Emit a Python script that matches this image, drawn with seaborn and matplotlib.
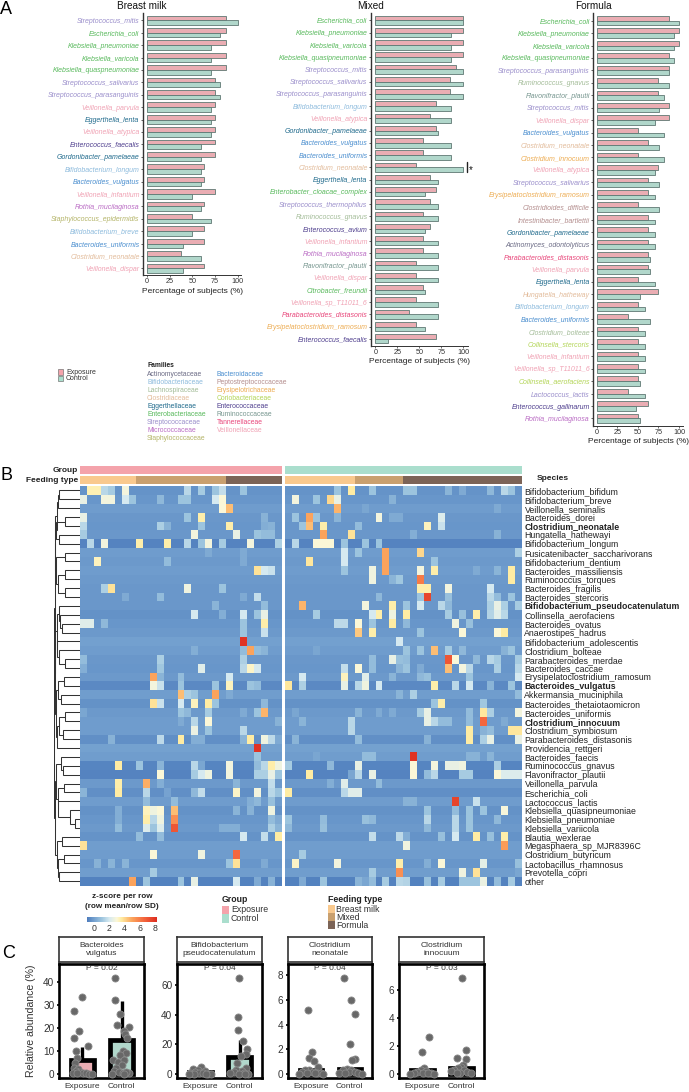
import numpy as np
import pandas as pd
import matplotlib
matplotlib.use("Agg")
import matplotlib.pyplot as plt
from matplotlib.colors import LinearSegmentedColormap, ListedColormap
from matplotlib.patches import Rectangle
import seaborn as sns

sns.set_theme(style="white")
plt.rcParams['font.family'] = ['Liberation Sans', 'DejaVu Sans']
plt.rcParams['axes.unicode_minus'] = False

W, H = 689, 1092

PINK = "#f4a3ab"
TEAL = "#aadecd"
GROUP_COLORS = {"Exposure": PINK, "Control": TEAL}

# --- panel A -------------------------------------------------------------
FAMILY_COLORS = {
    "Actinomycetaceae": "#6b6b85", "Bifidobacteriaceae": "#8dbbdd", "Lachnospiraceae": "#a3bc98",
    "Clostridiaceae": "#e2bb9a", "Eggerthellaceae": "#1f6a8c", "Enterobacteriaceae": "#58b95c",
    "Streptococcaceae": "#9a8ecb", "Micrococcaceae": "#ba6cc4", "Staphylococcaceae": "#b4b468",
    "Bacteroidaceae": "#4a8ecf", "Peptostreptococcaceae": "#b48e8e", "Erysipelotrichaceae": "#edac52",
    "Coriobacteriaceae": "#b3d557", "Enterococcaceae": "#4f3f8e", "Ruminococcaceae": "#76968f",
    "Tannerellaceae": "#e8467a", "Veillonellaceae": "#f0a2b4",
}
families_left = ["Actinomycetaceae", "Bifidobacteriaceae", "Lachnospiraceae", "Clostridiaceae", "Eggerthellaceae",
                 "Enterobacteriaceae", "Streptococcaceae", "Micrococcaceae", "Staphylococcaceae"]
families_right = ["Bacteroidaceae", "Peptostreptococcaceae", "Erysipelotrichaceae", "Coriobacteriaceae",
                  "Enterococcaceae", "Ruminococcaceae", "Tannerellaceae", "Veillonellaceae"]

GENUS_FAMILY = {
    "Streptococcus": "Streptococcaceae", "Lactococcus": "Streptococcaceae", "Escherichia": "Enterobacteriaceae",
    "Klebsiella": "Enterobacteriaceae", "Enterobacter": "Enterobacteriaceae", "Citrobacter": "Enterobacteriaceae",
    "Veillonella": "Veillonellaceae", "Eggerthella": "Eggerthellaceae", "Gordonibacter": "Eggerthellaceae",
    "Enterococcus": "Enterococcaceae", "Bifidobacterium": "Bifidobacteriaceae", "Bacteroides": "Bacteroidaceae",
    "Rothia": "Micrococcaceae", "Staphylococcus": "Staphylococcaceae", "Clostridium": "Clostridiaceae",
    "Ruminococcus": "Lachnospiraceae", "Flavonifractor": "Ruminococcaceae", "Parabacteroides": "Tannerellaceae",
    "Erysipelatoclostridium": "Erysipelotrichaceae", "Clostridioides": "Peptostreptococcaceae",
    "Intestinibacter": "Peptostreptococcaceae", "Actinomyces": "Actinomycetaceae", "Hungatella": "Clostridiaceae",
    "Collinsella": "Coriobacteriaceae",
}
SPECIES_FAMILY = {"Clostridium_innocuum": "Erysipelotrichaceae", "Clostridium_bolteae": "Lachnospiraceae"}

breast_species = ["Streptococcus_mitis", "Escherichia_coli", "Klebsiella_pneumoniae", "Klebsiella_varicola",
                  "Klebsiella_quaspneumoniae", "Streptococcus_salivarius", "Streptococcus_parasanguinis",
                  "Veillonella_parvula", "Eggerthella_lenta", "Veillonella_atypica", "Enterococcus_faecalis",
                  "Gordonibacter_pamelaeae", "Bifidobacterium_longum", "Bacteroides_vulgatus", "Veillonella_infantium",
                  "Rothia_mucilaginosa", "Staphylococcus_epidermidis", "Bifidobacterium_breve", "Bacteroides_uniformis",
                  "Clostridium_neonatale", "Veillonella_dispar"]
breast_exposure = [87.5, 87.5, 87.5, 87.5, 87.5, 75, 75, 75, 75, 75, 75, 75, 62.5, 62.5, 75, 62.5, 50, 62.5, 62.5, 37.5, 62.5]
breast_control = [100, 80, 70, 70, 70, 80, 80, 70, 70, 70, 60, 60, 60, 60, 50, 60, 70, 50, 40, 60, 40]

mixed_species = ["Escherichia_coli", "Klebsiella_pneumoniae", "Klebsiella_varicola", "Klebsiella_quasipneumoniae",
                 "Streptococcus_mitis", "Streptococcus_salivarius", "Streptococcus_parasanguinis",
                 "Bifidobacterium_longum", "Veillonella_atypica", "Gordonibacter_pamelaeae", "Bacteroides_vulgatus",
                 "Bacteroides_uniformis", "Clostridium_neonatale", "Eggerthella_lenta", "Enterobacter_cloacae_complex",
                 "Streptococcus_thermophilus", "Ruminococcus_gnavus", "Enterococcus_avium", "Veillonella_infantium",
                 "Rothia_mucilaginosa", "Flavonifractor_plautii", "Veillonella_dispar", "Citrobacter_freundii",
                 "Veillonella_sp_T11011_6", "Parabacteroides_distasonis", "Erysipelatoclostridium_ramosum",
                 "Enterococcus_faecalis"]
mixed_exposure = [100, 100, 100, 100, 92, 85, 85, 69, 62, 69, 54, 54, 46, 62, 69, 62, 54, 62, 54, 54, 46, 46, 54, 46, 38, 46, 69]
mixed_control = [100, 86, 86, 86, 100, 100, 100, 86, 86, 71, 86, 86, 100, 71, 57, 71, 71, 57, 71, 71, 71, 71, 57, 71, 71, 57, 14]

formula_species = ["Escherichia_coli", "Klebsiella_pneumoniae", "Klebsiella_varicola", "Klebsiella_quasipneumoniae",
                   "Streptococcus_parasanguinis", "Ruminococcus_gnavus", "Flavonifractor_plautii", "Streptococcus_mitis",
                   "Veillonella_dispar", "Bacteroides_vulgatus", "Clostridium_neonatale", "Clostridium_innocuum",
                   "Veillonella_atypica", "Streptococcus_salivarius", "Erysipelatoclostridium_ramosum",
                   "Clostridioides_difficile", "Intestinibacter_bartlettii", "Gordonibacter_pamelaeae",
                   "Actinomyces_odontolyticus", "Parabacteroides_distasonis", "Veillonella_parvula", "Eggerthella_lenta",
                   "Hungatella_hatheway", "Bifidobacterium_longum", "Bacteroides_uniformis", "Clostridium_bolteae",
                   "Collinsella_stercoris", "Veillonella_infantium", "Veillonella_sp_T11011_6", "Collinsella_aerofaciens",
                   "Lactococcus_lactis", "Enterococcus_gallinarum", "Rothia_mucilaginosa"]
formula_exposure = [87.5, 100, 100, 87.5, 87.5, 75, 75, 87.5, 87.5, 50, 62.5, 50, 75, 62.5, 62.5, 50, 62.5, 62.5, 62.5, 62.5,
                    62.5, 50, 75, 50, 37.5, 50, 50, 50, 50, 50, 37.5, 62.5, 50]
formula_control = [100, 94, 94, 94, 88, 88, 82, 76, 71, 82, 76, 82, 71, 76, 71, 76, 71, 71, 71, 65, 65, 71, 53, 59, 65, 59,
                   59, 59, 59, 53, 59, 47, 53]

# --- panel B -------------------------------------------------------------
row_labels = ["Bifidobacterium_bifidum", "Bifidobacterium_breve", "Veillonella_seminalis", "Bacteroides_dorei",
              "Clostridium_neonatale", "Hungatella_hathewayi", "Bifidobacterium_longum", "Fusicatenibacter_saccharivorans",
              "Bifidobacterium_dentium", "Bacteroides_massiliensis", "Ruminococcus_torques", "Bacteroides_fragilis",
              "Bacteroides_stercoris", "Bifidobacterium_pseudocatenulatum", "Collinsella_aerofaciens", "Bacteroides_ovatus",
              "Anaerostipes_hadrus", "Bifidobacterium_adolescentis", "Clostridium_bolteae", "Parabacteroides_merdae",
              "Bacteroides_caccae", "Erysipelatoclostridium_ramosum", "Bacteroides_vulgatus", "Akkermansia_muciniphila",
              "Bacteroides_thetaiotaomicron", "Bacteroides_uniformis", "Clostridium_innocuum", "Clostridium_symbiosum",
              "Parabacteroides_distasonis", "Providencia_rettgeri", "Bacteroides_faecis", "Ruminococcus_gnavus",
              "Flavonifractor_plautii", "Veillonella_parvula", "Escherichia_coli", "Lactococcus_lactis",
              "Klebsiella_quasipneumoniae", "Klebsiella_pneumoniae", "Klebsiella_variicola", "Blautia_wexlerae",
              "Megasphaera_sp_MJR8396C", "Clostridium_butyricum", "Lactobacillus_rhamnosus", "Prevotella_copri", "other"]
bold_rows = ["Clostridium_neonatale", "Bifidobacterium_pseudocatenulatum", "Bacteroides_vulgatus", "Clostridium_innocuum"]

row_base = [-.3, -.25, -.1, -.2, -.25, -.2, -.7, -.1, -.15, -.1, -.15, -.2, -.2, -.2, -.35, -.25, -.15, 0, -.1, -.2,
            -.25, -.15, -.55, -.05, -.35, -.15, -.1, -.1, -.4, .05, -.05, -.65, -.7, -.15, -.4, -.1, -.35, -.25, -.15,
            -.3, -.05, -.1, -.25, -.05, -.75]

exposure_cells = {
    0: {1: 3.4, 2: 3.4, 3: 1.5, 4: 1.2, 6: 2.8, 15: 1.5, 17: 1.2, 19: 1, 20: 1.7, 23: 1},
    1: {0: 2.5, 3: 2.8, 4: 2.8, 6: 2, 7: 1, 11: .7, 14: 1, 15: 1, 19: 2, 20: 3},
    2: {20: 3, 21: 4.5},
    3: {0: 2.5, 15: 1, 17: 3.5, 26: .5},
    4: {0: 1.5, 11: 1.3, 12: .5, 17: 1, 21: 3.5, 26: .4, 27: .5},
    5: {0: 1.2, 16: 2.8, 22: 2.5, 25: 1, 26: .8, 27: .8},
    6: {1: 1.5, 3: 2.8, 8: 3.5, 12: 3.5, 15: 1.5, 17: 1, 18: 2.8, 20: 1.2, 24: 2.8, 28: 1.3},
    7: {18: .3, 23: .3},
    8: {2: 3.3, 12: .8, 23: .3},
    9: {25: 3.8, 26: 2, 27: 1.8},
    11: {3: 1.3, 4: 3.8, 15: 2.7, 20: 1},
    12: {6: .3, 11: .8, 23: .3, 25: 1.7},
    13: {19: .6, 26: .8},
    14: {16: 2, 20: .4, 23: 2, 25: 1, 26: 2.5},
    15: {0: 2.3, 1: 2.3, 3: .7, 23: 1, 26: 3.5},
    16: {23: 1, 26: 1.8},
    17: {23: 8},
    18: {16: .4, 23: .8, 24: 5, 25: .8, 26: .6},
    19: {0: .8, 11: 1.3, 23: 1.3},
    20: {0: .4, 11: 1.1, 17: 2.3, 23: 1.5, 24: 3.2, 25: 2},
    21: {10: 5, 11: .6, 14: .8, 21: 2},
    22: {10: 2.8, 11: 1.8, 14: 1, 19: 1, 21: 3.3, 24: 1, 25: .8},
    23: {14: 4.5, 15: 1.3, 16: 1, 19: 5, 21: .3},
    24: {10: 3.8, 11: 1.8, 14: 2, 16: 3.3, 18: 3.6, 19: 1, 26: .7},
    25: {0: .2, 14: 1, 15: .7, 18: 1.2, 23: .3, 25: 1, 26: 4.7},
    26: {14: .3, 16: 1.5, 18: 3, 28: .5},
    27: {16: 2.6, 18: 1, 23: 1.5},
    28: {4: .5, 11: 1.6, 14: 3.6, 16: .4, 17: .4, 23: .6, 24: 3.6, 26: 2.7, 27: 1.6, 28: .3},
    29: {25: 8},
    30: {25: 1},
    31: {5: 3.6, 8: 1, 11: .6, 16: 1.5, 17: .2, 21: 2.8, 25: .8, 26: 1.5, 27: 3.5, 28: 2.7},
    32: {11: 3, 16: 1.2, 17: 2, 18: 2.7, 21: 2.8, 25: 1.3, 26: 1.3, 27: 2.5, 28: 1},
    33: {5: 3.5, 9: 4.8, 11: .4, 22: .6, 27: 1.7},
    34: {0: .6, 5: 3.6, 9: 1.5, 12: .1, 16: .7, 17: 1.7, 22: 3.2, 25: 2.8, 27: 1.5, 28: 1},
    35: {9: .8, 13: .8, 24: .4, 25: .7, 27: .9},
    36: {5: .4, 9: 3.3, 10: 2.7, 11: 3, 13: 4.5, 22: .6, 24: .5, 27: 2.7},
    37: {5: .4, 9: 3.5, 10: 1.5, 11: 2.7, 13: 5.5, 27: .8, 28: .3},
    38: {5: .8, 9: 2.2, 10: 1, 11: 2.2, 13: 7, 20: .4, 21: .4, 22: .4, 27: 1.3, 28: .6},
    39: {8: .8, 11: .8, 23: 2, 26: 1.7, 28: 3.6},
    40: {0: 3.8},
    41: {10: 3, 17: 2.7, 22: 6.5},
    42: {2: .5, 4: .6, 6: .6, 21: 1, 22: 3.8, 26: .3},
    43: {10: 1.2},
    44: {7: 5, 9: 1, 14: 1, 16: 2.5, 22: 2, 25: .3, 27: .5},
}
control_cells = {
    0: {7: 1, 9: 3.6, 12: 1, 17: 1, 18: 1, 23: .6, 25: .3, 29: .7, 31: 1.5, 32: 1},
    1: {1: 2.8, 4: 1, 6: 4, 7: 2.5, 15: .5},
    2: {7: 4.7, 11: .2, 30: .3},
    3: {1: 1, 3: 5, 4: 1, 7: .6, 13: 2.8, 15: .3, 16: .3, 22: 2.2},
    4: {2: 1, 3: 4.5, 5: 3.5, 10: .8, 20: 3.3, 22: 1.8},
    5: {5: 5, 9: 3.8, 18: .4, 30: .5},
    6: {1: 1.5, 4: 3, 5: 3, 6: 3, 8: 1, 11: 1, 13: 1},
    7: {8: 2, 10: 1, 14: 5, 19: 4, 33: 1.3},
    8: {3: 3.7, 8: 2, 14: 5, 21: 1},
    9: {8: 1, 12: 2.7, 14: 5, 19: 2.8, 21: 3.5, 27: .3, 30: .6, 32: 3.6},
    10: {12: 2.7, 15: .6, 16: 1.1, 19: 6, 32: 3.6},
    11: {19: 3.5, 20: 3.5, 23: 2.8, 29: 2},
    12: {13: .7, 19: 1, 20: 7.5, 23: .9, 29: 1.5, 30: .8, 32: 1},
    13: {2: 4.7, 11: 2.8, 15: 3.5, 17: 1, 19: 2, 22: 1.5, 23: .7, 29: 1.3, 30: 2.5, 31: 1.3, 33: 1.2},
    14: {4: 1.2, 12: 2, 13: 3.5, 15: 2.7, 17: 3.6, 23: 1.2, 25: .9, 27: 3.5, 29: 1.4, 30: 2.3, 31: 1.5},
    15: {7: 1.6, 8: 1.6, 10: 3, 12: 1, 15: 3.6, 17: .7, 24: 2.7, 26: .9},
    16: {10: 4.3, 12: 3.5, 19: 1, 25: 3, 30: 3, 31: 3.6},
    17: {16: 2},
    18: {4: .2, 17: 1, 19: 1, 21: 4.5, 23: 1.2, 25: .7, 31: .5, 32: 1},
    19: {12: .8, 15: 2.5, 16: .9, 17: .8, 23: 7, 24: 3, 27: .7, 29: 1.5, 30: 1.2, 33: 1.2},
    20: {8: 1.7, 10: 3, 12: .8, 16: .6, 17: 1, 19: .3, 23: 4.5, 25: 2.8, 26: 1.5, 30: 1.3, 33: 1.5},
    21: {2: 2, 8: 3.3, 11: 2.3, 15: .6, 19: .7, 20: .9, 26: 1, 33: 2},
    22: {0: 3.7, 2: 1.3, 8: 2.5, 10: 1.5, 11: 2.7, 13: 2, 21: 3.5, 24: 1.5, 26: 2, 29: .6, 32: 1},
    23: {16: .6, 18: 1.3, 33: .8},
    24: {21: 1, 22: 3.5, 28: 1.1},
    25: {1: .2, 10: .6, 13: .3, 15: .3, 19: 1.2, 20: 2.5, 26: .8, 28: 3.7, 29: 1.3, 33: 2.8},
    26: {2: .6, 9: 1.5, 20: 2.5, 21: 1.5, 22: .8, 23: .8, 26: .8, 28: 6.5, 31: .3},
    27: {9: 1.5, 26: 3.6, 28: .5, 29: .8, 32: 3.7, 33: 3.7},
    28: {1: .6, 10: .8, 20: .5, 26: 3.6, 28: 1.3, 29: 2.5, 33: 2.5},
    30: {4: .2, 11: .8, 12: .8, 18: 8, 26: .5, 27: .5, 29: .6},
    31: {0: 1.2, 6: .7, 10: 2.5, 18: 3, 21: 2.8, 23: 2.5, 24: 2.5, 25: 2.7, 30: 1.3},
    32: {3: 3.6, 9: .2, 10: 1.5, 12: 2.5, 18: 3, 20: .8, 21: 1.5, 25: 1.2, 26: 1.2, 30: 3, 31: 2.2, 32: 2.2, 33: 2.2},
    33: {6: .4, 8: 2.3, 13: .8},
    34: {0: 3.6, 8: 1.5, 9: 2.3, 10: 2.3},
    35: {17: .5, 18: .5, 24: 7.5, 27: 1.8},
    36: {20: 1, 24: .8, 26: 1, 28: 1, 31: 2.9},
    37: {0: 1, 5: .8, 11: .9, 12: .7, 20: 1.5, 24: 1.5, 26: 1, 30: .7},
    38: {0: .7, 5: .9, 20: .7, 24: 1.5, 26: 1},
    39: {12: 1.7, 16: 1.6, 17: .4, 22: .9, 24: 2, 27: 3.6, 29: .9, 31: 3.5},
    40: {17: 2.7, 31: 5.2},
    41: {2: 1.2},
    42: {1: 3.2, 7: 2.8, 16: 3.5, 20: .4, 22: 3, 28: 2.4, 33: .9},
    43: {12: 1.2, 16: 5.5, 25: 2.7, 27: 3.8, 33: .2},
    44: {2: .3, 5: 1, 10: .6, 11: .2, 12: .8, 14: 1.2, 16: 1.5, 17: 1.4, 20: .9, 22: 1.2, 25: 1, 26: 1, 27: 1, 28: 2.6, 30: .8, 32: 1.2},
}
exposure_feeding = [8, 13, 8]
control_feeding = [10, 7, 17]
FEEDING_COLORS = ["#f9c98e", "#c9a06f", "#7c6457"]
feeding_names = ["Breast milk", "Mixed", "Formula"]

# merge height, left branch, right branch (leaves are row numbers)
dendro_top = (.95, (.9, (.84, (.8, 0, 1), 2), (.92, (.58, 3, 4), (.8, 5, 6))),
              (.93, (.58, 7, 8), (.85, (.58, 9, 10), (.58, 11, 12))))
dendro_mid = (.96, (.9, (.8, 13, (.77, 14, (.68, 15, 16))), (.87, 17, (.8, 18, (.58, 19, 20)))),
              (.92, (.85, (.6, 21, 22), (.73, 23, 24)), (.9, (.8, (.58, 25, 26), (.65, 27, 28)), 29)))
dendro_bot = (.97, (.92, (.75, 30, (.65, 31, 32)), (.85, (.62, 33, 34), (.85, 35, (.38, 36, (.2, 37, 38))))),
              (.88, (.7, 39, 40), (.84, (.6, 41, 42), (.8, 43, 44))))
dendro = (1.0, (.98, dendro_top, dendro_mid), dendro_bot)

# --- panel C -------------------------------------------------------------
facet_titles = ["Bacteroides\nvulgatus", "Bifidobacterium\npseudocatenulatum", "Clostridium\nneonatale", "Clostridium\ninnocuum"]
facet_pvalues = ["P = 0.02", "P = 0.04", "P = 0.04", "P = 0.03"]
group_names = ["Exposure", "Control"]
facet_means = [[6, 14.7], [1.3, 11.8], [.3, .43], [.3, .4]]
facet_upper = [[11.8, 31.7], [1.3, 23], [.3, .43], [.3, .4]]
facet_ticks = [[0, 10, 20, 30, 40], [0, 20, 40, 60], [0, 2, 4, 6, 8], [0, 2, 4, 6]]
facet_ylim = [(-1.7, 47.6), (-2.7, 74.4), (-.32, 8.92), (-.29, 7.9)]

# value, sideways offset from the group centre
p1_exp = [(33.2, 0), (27.3, -.2), (18.6, -.09), (15.6, -.21), (12, .14), (9.8, -.17), (6.8, -.14), (4.6, -.18),
          (2.6, -.2), (2, -.1), (1.2, -.15), (.8, -.05), (.5, -.24), (.4, .03), (.3, .1), (.2, .17), (.6, -.12), (.2, .24)]
p1_ctl = [(41.5, -.16), (31.9, -.17), (26, -.05), (21.4, -.11), (20.2, .19), (18.8, .07), (17.3, .08), (15.7, .14),
          (10, .04), (9, .11), (8.2, -.03), (6, -.21), (5.3, -.08), (6, .07), (3.9, 0), (2.6, -.13), (1.5, -.2),
          (1, -.06), (.6, .03), (.4, .12), (.3, .2), (.2, -.24), (.8, .1), (.2, .06)]
p2_exp = [(4.5, .02), (3.4, -.19), (2.6, -.05), (2, .12), (1.4, -.12), (.8, -.25), (.6, -.02), (.4, .06), (.3, .2),
          (.3, -.16), (.2, .28), (.2, -.28), (.2, .14)]
p2_ctl = [(65, -.02), (38.4, -.04), (29.8, -.04), (22.6, .09), (17, .19), (13.5, .17), (12, .03), (7.2, -.06),
          (3.8, .17), (3, -.08), (2.2, .05), (1.4, -.15), (.8, .1), (.5, -.24), (.3, .22), (.3, -.02), (.2, .13)]
p3_exp = [(5.2, -.07), (1.76, .02), (1.3, -.04), (1.05, .07), (.6, .17), (.35, -.06), (.3, -.16), (.2, .06),
          (.15, -.24), (.12, .16), (.08, .26), (.05, -.1), (.05, .1), (.03, -.3), (.03, .3)]
p3_ctl = [(7.8, -.14), (6, .04), (4.87, .14), (2.4, 0), (1.2, .14), (1.1, .05), (.45, -.08), (.35, -.18), (.3, .03),
          (.2, -.03), (.15, .12), (.1, -.27), (.08, .22), (.05, -.12), (.04, .3)]
p4_exp = [(2.68, .17), (1.56, 0), (.45, .04), (.25, -.03), (.2, .1), (.12, -.14), (.1, .22), (.06, -.22), (.05, .01),
          (.04, .14), (.03, -.3), (.03, .3)]
p4_ctl = [(6.9, 0), (1.73, .1), (1.17, -.11), (1.08, .1), (.65, .04), (.5, -.02), (.4, -.1), (.3, -.18), (.25, .05),
          (.18, -.26), (.12, .14), (.08, -.04), (.05, .24), (.04, -.12)]
facet_points = [(p1_exp, p1_ctl), (p2_exp, p2_ctl), (p3_exp, p3_ctl), (p4_exp, p4_ctl)]


fig = plt.figure(figsize=(W / 100, H / 100), dpi=100)
fig.patch.set_facecolor("white")


def px_ax(x0, y0, x1, y1):
    return fig.add_axes([x0 / W, 1 - y1 / H, (x1 - x0) / W, (y1 - y0) / H])


def ftext(x, y, s, **kw):
    kw.setdefault("va", "center")
    kw.setdefault("color", "#222222")
    fig.text(x / W, 1 - y / H, s, **kw)


def species_color(name):
    family = SPECIES_FAMILY.get(name, GENUS_FAMILY[name.split("_")[0]])
    return FAMILY_COLORS[family]


def bar_panel(box, xlim, ylim, title, title_x, species, exposure, control):
    ax = px_ax(*box)
    df = pd.DataFrame({"species": species * 2,
                       "pct": exposure + control,
                       "group": ["Exposure"] * len(species) + ["Control"] * len(species)})
    sns.barplot(data=df, y="species", x="pct", hue="group", order=species, hue_order=group_names,
                palette=GROUP_COLORS, edgecolor="#5f7873", linewidth=.6, width=.76, legend=False, ax=ax)
    ax.set_xlim(*xlim)
    ax.set_ylim(*ylim)
    ax.set_xticks([0, 25, 50, 75, 100])
    ax.set_ylabel("")
    ax.set_xlabel("Percentage of subjects (%)", fontsize=6, labelpad=1.5, color="#222222")
    ax.tick_params(axis="x", labelsize=5.2, length=1.5, width=.5, pad=1, bottom=True, colors="#333333")
    ax.tick_params(axis="y", labelsize=5, length=1.5, width=.5, pad=1, left=True)
    for lab, name in zip(ax.get_yticklabels(), species):
        lab.set_color(species_color(name))
        lab.set_style("italic")
    sns.despine(ax=ax)
    ax.spines["left"].set_linewidth(1)
    ax.spines["bottom"].set_linewidth(.7)
    ax.spines["left"].set_color("#333333")
    ax.spines["bottom"].set_color("#333333")
    ftext(title_x, 6, title, fontsize=7.2, ha="center", color="#111111")
    return ax


bar_panel((143, 13, 241, 275), (-4.4, 103.6), (20.54, -.59), "Breast milk", 142, breast_species, breast_exposure, breast_control)
ax_mix = bar_panel((371, 13, 468, 345.7), (-4.9, 105.3), (26.56, -.6), "Mixed", 371, mixed_species, mixed_exposure, mixed_control)
bar_panel((593.3, 13, 683, 425.7), (-4.5, 104.9), (32.58, -.62), "Formula", 593, formula_species, formula_exposure, formula_control)

# significance mark next to Clostridium_neonatale
ax_mix.plot([104, 104], [11.6, 12.4], color="#222222", lw=1, clip_on=False)
ax_mix.text(106, 12.2, "*", fontsize=7, va="center", ha="left", clip_on=False, color="#111111")

# legends of panel A
for y_px, name in zip([372, 378.5], group_names):
    fig.add_artist(Rectangle((57.5 / W, 1 - (y_px + 2.8) / H), 5.5 / W, 5.6 / H, transform=fig.transFigure,
                             facecolor=GROUP_COLORS[name], edgecolor="#777777", lw=.5))
    ftext(66, y_px, name, fontsize=5, color="#333333")
ftext(147, 366, "Families", fontsize=4.8, fontweight="bold")
for i, name in enumerate(families_left):
    ftext(147, 374.3 + i * 8.08, name, fontsize=4.9, color=FAMILY_COLORS[name])
for i, name in enumerate(families_right):
    ftext(216.5, 374.3 + i * 8.08, name, fontsize=4.9, color=FAMILY_COLORS[name])

# --- heatmap ---
hm_colors = [(-.9, "#4d7cbc"), (-.1, "#6f9ccd"), (1, "#9cc4de"), (2, "#d5e9f0"), (3, "#fbf7d8"),
             (3.6, "#ffeca2"), (5, "#fba45c"), (6.5, "#f4683e"), (8.25, "#dd2c20")]
hm_cmap = LinearSegmentedColormap.from_list("zscore", [((v + .9) / 9.15, c) for v, c in hm_colors])


def build_matrix(cells, n_cols):
    mat = np.tile(np.array(row_base)[:, None], (1, n_cols))
    for r, row in cells.items():
        for c, z in row.items():
            mat[r, c] = z
    return mat


ax_l = px_ax(80, 486, 282, 885.7)
ax_r = px_ax(285, 486, 521.7, 885.7)
cax = px_ax(87, 917, 157, 922)
sns.heatmap(build_matrix(exposure_cells, 29), ax=ax_l, cmap=hm_cmap, vmin=-.9, vmax=8.25, cbar=False,
            xticklabels=False, yticklabels=False)
sns.heatmap(build_matrix(control_cells, 34), ax=ax_r, cmap=hm_cmap, vmin=-.9, vmax=8.25, cbar_ax=cax,
            cbar_kws={"orientation": "horizontal", "ticks": [0, 2, 4, 6, 8]},
            xticklabels=False, yticklabels=row_labels)
ax_r.tick_params(axis="y", left=False, right=False, length=0, labelleft=False, labelright=True, labelsize=6.35, pad=2,
                 labelrotation=0, labelcolor="#222222")
for lab in ax_r.get_yticklabels():
    if lab.get_text() in bold_rows:
        lab.set_fontweight("bold")
cax.tick_params(axis="x", labelsize=6.3, length=0, pad=1.5, labelcolor="#333333")
ax_r.collections[0].colorbar.outline.set_visible(False)

ftext(122, 896, "z-score per row", fontsize=5.9, fontweight="bold", ha="center")
ftext(122, 907, "(row mean/row SD)", fontsize=5.9, fontweight="bold", ha="center")

# annotation strips
group_cmap = ListedColormap([PINK, TEAL])
feeding_cmap = ListedColormap(FEEDING_COLORS)
for (x0, x1), code, counts in [((80, 282), 0, exposure_feeding), ((285, 521.7), 1, control_feeding)]:
    ax_g = px_ax(x0, 466, x1, 474)
    sns.heatmap(np.array([[code]]), ax=ax_g, cmap=group_cmap, vmin=0, vmax=1, cbar=False, xticklabels=False, yticklabels=False)
    ax_f = px_ax(x0, 476, x1, 484)
    sns.heatmap(np.repeat([0, 1, 2], counts)[None, :], ax=ax_f, cmap=feeding_cmap, vmin=0, vmax=2, cbar=False,
                xticklabels=False, yticklabels=False)

ftext(78, 470, "Group", fontsize=6, fontweight="bold", ha="right")
ftext(78, 480, "Feeding type", fontsize=6, fontweight="bold", ha="right")
ftext(537, 479, "Species", fontsize=6, fontweight="bold")

# dendrogram
ax_d = px_ax(54, 486, 80, 885.7)
ax_d.set_xlim(1, 0)
ax_d.set_ylim(45, 0)
ax_d.axis("off")


def draw_tree(node):
    if isinstance(node, int):
        return 0, node + .5
    h, a, b = node
    ha, ya = draw_tree(a)
    hb, yb = draw_tree(b)
    ax_d.plot([ha, h, h, hb], [ya, ya, yb, yb], color="#333333", lw=.75, solid_joinstyle="miter")
    return h, (ya + yb) / 2


draw_tree(dendro)

# heatmap legends
ftext(222, 899, "Group", fontsize=6.3, fontweight="bold")
for y_px, name in zip([910, 918.6], group_names):
    fig.add_artist(Rectangle((222 / W, 1 - (y_px + 4.3) / H), 6.5 / W, 8.6 / H, transform=fig.transFigure,
                             facecolor=GROUP_COLORS[name], edgecolor="none"))
    ftext(231, y_px, name, fontsize=6.3, color="#333333")
ftext(328, 899, "Feeding type", fontsize=6.3, fontweight="bold")
for y_px, name, col in zip([909, 917, 925], feeding_names, FEEDING_COLORS):
    fig.add_artist(Rectangle((328 / W, 1 - (y_px + 4) / H), 6.5 / W, 8 / H, transform=fig.transFigure,
                             facecolor=col, edgecolor="none"))
    ftext(336, y_px, name, fontsize=6.3, color="#333333")

# --- panel C ---
facet_boxes = [(59, 144), (177, 262), (288, 372), (399, 484)]
for i, (x0, x1) in enumerate(facet_boxes):
    ax = px_ax(x0, 964, x1, 1078)
    sns.barplot(x=[0, 1], y=facet_means[i], hue=group_names, palette=GROUP_COLORS, hue_order=group_names,
                native_scale=True, width=.58, edgecolor="black", linewidth=3.4, dodge=False, legend=False, ax=ax)
    ax.vlines([0, 1], facet_means[i], facet_upper[i], color="black", lw=2.4, zorder=3)
    for j, pts in enumerate(facet_points[i]):
        vals = [p[0] for p in pts]
        xs = [j + p[1] for p in pts]
        sns.scatterplot(x=xs, y=vals, s=26, color="#686868", edgecolor="#8a8a8a", linewidth=.6, zorder=4, ax=ax, clip_on=False)
    ax.set_xlim(-.59, 1.57)
    ax.set_ylim(*facet_ylim[i])
    ax.set_xticks([0, 1], group_names)
    ax.set_yticks(facet_ticks[i])
    ax.tick_params(axis="x", length=0, labelsize=6, pad=3.5, bottom=False, labelcolor="#333333")
    ax.tick_params(axis="y", length=1.8, width=1.4, labelsize=7.2, pad=1.5, left=True, labelcolor="#333333")
    for sp in ax.spines.values():
        sp.set_visible(True)
        sp.set_linewidth(1.9)
        sp.set_color("black")
    ax.text(.5, .958, facet_pvalues[i], transform=ax.transAxes, ha="center", va="center", fontsize=6, color="#333333")
    ax_s = px_ax(x0, 937, x1, 962)
    ax_s.set_xticks([])
    ax_s.set_yticks([])
    for sp in ax_s.spines.values():
        sp.set_visible(True)
        sp.set_linewidth(1.2)
        sp.set_color("#333333")
    ax_s.text(.5, .5, facet_titles[i], transform=ax_s.transAxes, ha="center", va="center", fontsize=6, color="#333333",
              linespacing=1.25)

ftext(31, 1021, "Relative abundance (%)", fontsize=7.6, rotation=90, ha="center", color="#333333")

# panel letters
ftext(0, 10, "A", fontsize=13, color="black")
ftext(1, 476, "B", fontsize=13, color="black")
ftext(2, 954, "C", fontsize=13, color="black")

fig.savefig("out.png", dpi=100)
